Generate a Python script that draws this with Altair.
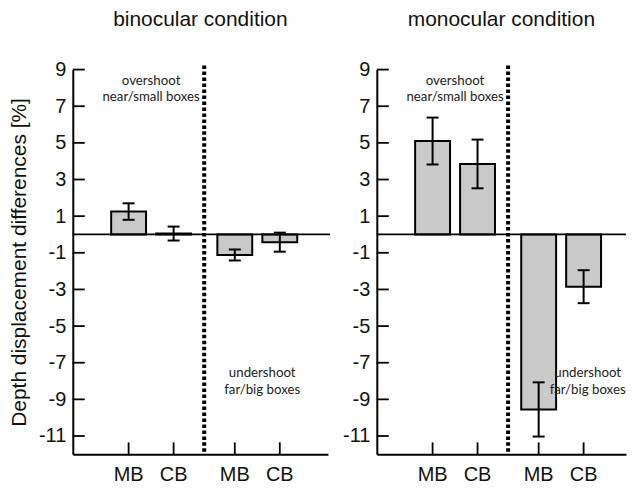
import altair as alt
import pandas as pd

# ---- data ----
conditions = ["binocular condition", "monocular condition"]
categories = ["MB", "CB", "MB", "CB"]
regions = ["overshoot", "overshoot", "undershoot", "undershoot"]
bino_mean = [1.25, 0.05, -1.12, -0.42]
bino_err = [0.45, 0.38, 0.30, 0.52]
mono_mean = [5.10, 3.85, -9.55, -2.85]
mono_err = [1.28, 1.33, 1.48, 0.90]
y_ticks = [-11, -9, -7, -5, -3, -1, 1, 3, 5, 7, 9]
over_text = "overshoot\nnear/small boxes"
under_text = "undershoot\nfar/big boxes"

# ---- layout ----
H = 386
FONT = "Arial"
ANN_FONT = "Lato"
slot0, gap = 1.13, 0.36
pos = [slot0 + i + (gap if regions[i] == "undershoot" else 0) for i in range(len(categories))]
divider = (pos[1] + pos[2]) / 2
yscale = alt.Scale(domain=[-12, 9], nice=False, zero=False)


def panel(title, means, errs, show_title, under_x, W, ext):
    xscale = alt.Scale(domain=[0, 5.45 * W / 256], nice=False, zero=False)
    df = pd.DataFrame({"pos": pos, "cat": categories, "mean": means, "err": errs})
    df["lo"] = df["mean"] - df["err"]
    df["hi"] = df["mean"] + df["err"]
    base = alt.Chart(df)

    yaxis = alt.Axis(
        values=y_ticks, ticks=False, grid=False, domain=True, domainWidth=2,
        domainColor="black", labelFont=FONT, labelFontSize=20, labelColor="#111",
        labelPadding=7, labelOverlap=False, labelExpr="toString(datum.value)",
        labelBound=False, labelFlush=False,
        title="Depth displacement differences [%]" if show_title else None,
        titleFont=FONT, titleFontSize=21, titleFontWeight="normal", titleColor="#111",
        titlePadding=9,
    )
    xaxis = alt.Axis(labels=False, ticks=False, grid=False, domain=True, domainWidth=2,
                     domainColor="black", title=None)

    def X(f):
        return alt.X(f, scale=xscale, axis=xaxis)

    def Y(f):
        return alt.Y(f, scale=yscale, axis=yaxis)

    bars = base.mark_bar(size=35, fill="#c9c9c9", stroke="black", strokeWidth=2).encode(
        x=X("pos:Q"), y=Y("mean:Q"), y2=alt.datum(0),
    )
    zero = alt.Chart(pd.DataFrame({"v": [0]})).mark_rule(color="black", strokeWidth=1.8).encode(
        y=Y("v:Q"), x=alt.value(0), x2=alt.value(W + ext)
    )
    err = base.mark_rule(color="black", strokeWidth=2).encode(
        x=X("pos:Q"), y=Y("lo:Q"), y2="hi:Q"
    )
    cap_lo = base.mark_tick(orient="horizontal", size=12, thickness=2, color="black", opacity=1).encode(
        x=X("pos:Q"), y=Y("lo:Q")
    )
    cap_hi = base.mark_tick(orient="horizontal", size=12, thickness=2, color="black", opacity=1).encode(
        x=X("pos:Q"), y=Y("hi:Q")
    )
    yt = alt.Chart(pd.DataFrame({"v": y_ticks})).mark_rule(color="black", strokeWidth=1.8).encode(
        y=Y("v:Q"), x=alt.value(0), x2=alt.value(12)
    )
    xt = base.mark_rule(color="black", strokeWidth=1.8).encode(
        x=X("pos:Q"), y=alt.value(H), y2=alt.value(H - 12)
    )
    xlab = base.mark_text(font=FONT, fontSize=20, color="#111", baseline="middle").encode(
        x=X("pos:Q"), y=alt.value(H + 21), text="cat:N"
    )
    div = alt.Chart(pd.DataFrame({"d": [divider]})).mark_rule(
        color="black", strokeWidth=4, strokeDash=[3.5, 2.5]
    ).encode(x=X("d:Q"), y=alt.value(-4), y2=alt.value(H))
    ann = alt.Chart(pd.DataFrame({
        "x": [(pos[0] + pos[1]) / 2, under_x],
        "y": [8.4, -7.55],
        "t": [over_text, under_text],
    })).mark_text(font=ANN_FONT, fontSize=13.3, color="#222", lineBreak="\n",
                  lineHeight=16.8, baseline="middle", clip=True).encode(
        x=X("x:Q"), y=Y("y:Q"), text="t:N"
    )
    return alt.layer(bars, zero, err, cap_lo, cap_hi, yt, xt, xlab, div, ann).properties(
        width=W, height=H,
        title=alt.TitleParams(title, font=FONT, fontSize=21, fontWeight="normal",
                              color="#111", anchor="middle", frame="group", offset=30),
    )


left = panel(conditions[0], bino_mean, bino_err, True, 4.1, 256, 2)
right = panel(conditions[1], mono_mean, mono_err, False, 4.58, 250, 0)

chart = alt.hconcat(left, right, spacing=11).properties(
    padding={"left": 0, "top": 0, "right": 0, "bottom": 0}
).configure_view(stroke=None).configure_axis(labelOverlap=False)

chart.save("out.html", embed_options={"renderer": "svg", "actions": False})
